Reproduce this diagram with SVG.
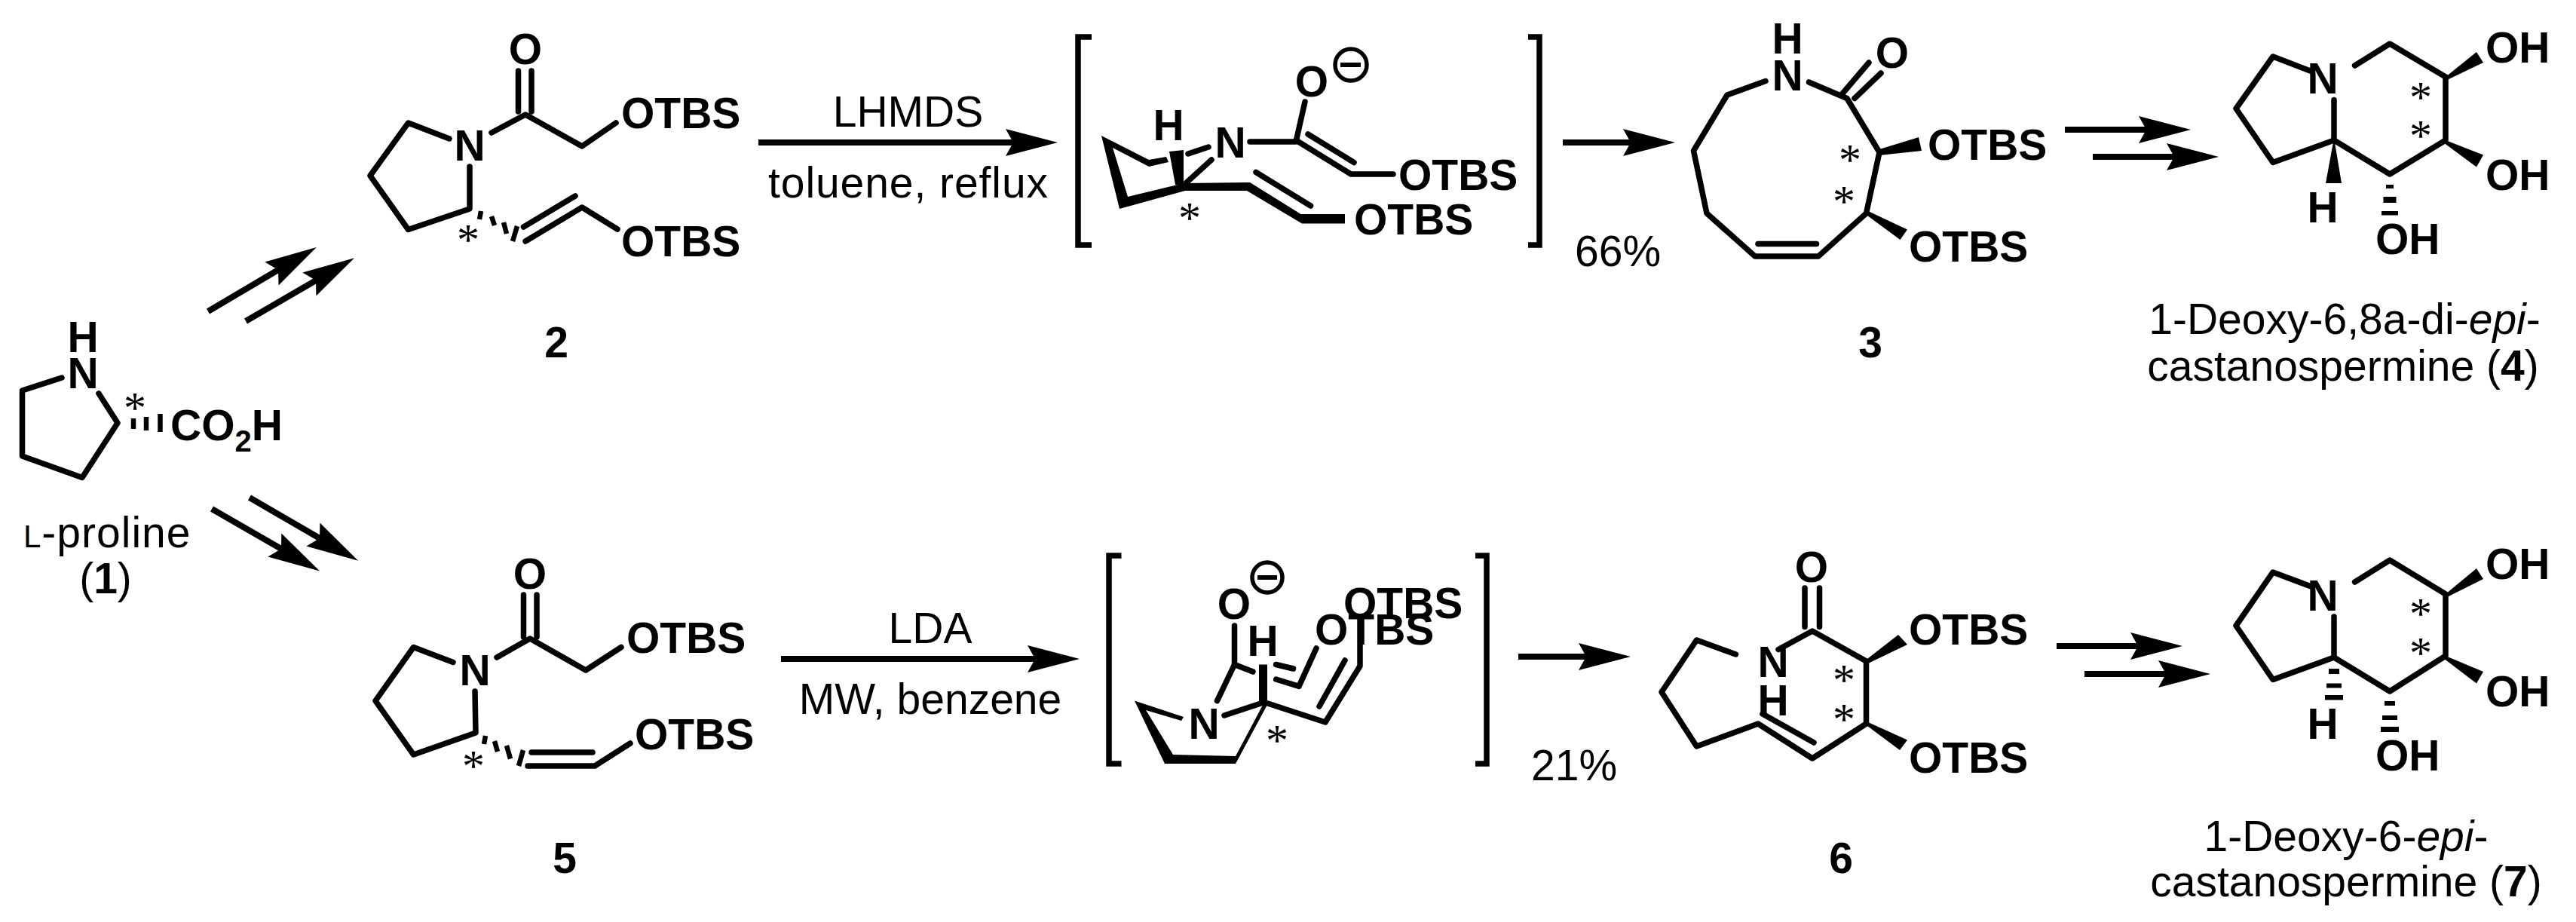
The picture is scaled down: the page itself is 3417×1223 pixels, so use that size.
<svg xmlns="http://www.w3.org/2000/svg" width="3417" height="1223" viewBox="0 0 3417 1223">
<style>
text{font-family:"Liberation Sans",Arial,sans-serif;fill:#000}
.a{font-size:57px;font-weight:700}
.m{text-anchor:middle}
.r{font-size:57px}
.s{font-family:"Liberation Serif","Times New Roman",serif;font-size:60px;text-anchor:middle}
.b{fill:none;stroke:#000;stroke-width:7.5;stroke-linecap:round;stroke-linejoin:round}
.h{fill:none;stroke:#000;stroke-width:6.5}
.w{fill:#000;stroke:none}
.k{fill:none;stroke:#000;stroke-width:7.5}
.c{stroke:#000;stroke-width:8;fill:none;marker-end:url(#head)}
.mc{fill:none;stroke:#000;stroke-width:5.5}
</style>
<defs>
<marker id="head" markerUnits="userSpaceOnUse" markerWidth="80" markerHeight="40" refX="10" refY="18" orient="auto" overflow="visible">
<path d="M0,0L69,18L0,36L10,18Z" fill="#000"/>
</marker>
</defs>
<rect width="3417" height="1223" fill="#fff"/>

<g id="connectors">
<line class="c" x1="276" y1="413" x2="369" y2="358"/>
<line class="c" x1="326" y1="426" x2="419" y2="372"/>
<line class="c" x1="331" y1="660" x2="424" y2="714"/>
<line class="c" x1="281" y1="675" x2="373" y2="728"/>
<line class="c" x1="1006" y1="189" x2="1344" y2="189"/>
<line class="c" x1="2073" y1="189" x2="2163" y2="189"/>
<line class="c" x1="2739" y1="172" x2="2847" y2="172"/>
<line class="c" x1="2776" y1="208" x2="2884" y2="208"/>
<line class="c" x1="1036" y1="874" x2="1373" y2="874"/>
<line class="c" x1="2014" y1="871" x2="2104" y2="871"/>
<line class="c" x1="2728" y1="857" x2="2836" y2="857"/>
<line class="c" x1="2765" y1="894" x2="2873" y2="894"/>
</g>

<g id="node-1">
<path class="b" d="M82,501L29.500,518V605L109,633.500L156,561L131,522"/>
<line class="h" x1="177" y1="555" x2="177" y2="569"/>
<line class="h" x1="194" y1="553" x2="194" y2="571"/>
<line class="h" x1="212.500" y1="549" x2="212.500" y2="573"/>
<text class="a m" x="110" y="467">H</text>
<text class="a m" x="110" y="515">N</text>
<text class="a" x="226" y="584">CO<tspan font-size="40" dy="15">2</tspan><tspan dy="-15">H</tspan></text>
<text class="s" x="179" y="561">*</text>
<text class="r" x="31" y="726" letter-spacing="1"><tspan font-size="42">L</tspan>-proline</text>
<text class="r m" x="140" y="787">(<tspan font-weight="700">1</tspan>)</text>
</g>

<g id="node-2">
<path class="b" d="M596,184L541.500,163L491,233L541.500,304.500L623,277V221"/>
<path class="b" d="M652,176L697,152L772,194L817,163"/>
<line class="b" x1="687.500" y1="94" x2="687.500" y2="148"/>
<line class="b" x1="705" y1="94" x2="705" y2="148"/>
<line class="h" x1="638" y1="280" x2="636" y2="291"/>
<line class="h" x1="652" y1="287" x2="656" y2="299"/>
<line class="h" x1="668" y1="295" x2="672" y2="310"/>
<line class="h" x1="686" y1="300" x2="680" y2="320"/>
<path class="b" d="M697,320L772,275L819,304"/>
<line class="b" x1="694.500" y1="301" x2="763" y2="260"/>
<text class="a m" x="697" y="85">O</text>
<text class="a" x="824" y="170">OTBS</text>
<text class="a m" x="623" y="213">N</text>
<text class="a" x="824" y="340">OTBS</text>
<text class="s" x="621" y="338">*</text>
<text class="a m" x="738" y="474">2</text>
</g>

<g id="reagents-top">
<text class="r m" x="1204.500" y="168">LHMDS</text>
<text class="r" x="1019" y="262" textLength="371" lengthAdjust="spacing">toluene, reflux</text>
<text class="r" x="2089" y="353">66%</text>
</g>

<g id="intermediate-top">
<path class="k" d="M1448,49H1430V325H1448"/>
<path class="k" d="M2027,49H2042V325H2027"/>
<path class="w" d="M1461,180L1524,212L1547,208L1550,215L1524,221L1476,196L1496,261L1570,243L1654,242L1658,242L1725.500,284L1784,284V296.500L1727,296.500L1654,253L1572,253L1485,277Z"/>
<path class="w" d="M1551,201L1570,199V245H1559Z"/>
<line class="b" x1="1576" y1="204" x2="1603" y2="195"/>
<line class="b" x1="1574" y1="242" x2="1607" y2="212"/>
<line class="b" x1="1666" y1="228.500" x2="1738.500" y2="273"/>
<path class="b" d="M1731,135L1719,188H1658"/>
<path class="b" d="M1719,186L1792,231H1848"/>
<line class="b" x1="1735" y1="178" x2="1796" y2="215.500"/>
<text class="a m" x="1550" y="186">H</text>
<text class="a m" x="1632" y="209">N</text>
<text class="a m" x="1740" y="128">O</text>
<circle class="mc" cx="1792" cy="86" r="21"/>
<rect class="w" x="1778" y="83" width="27" height="6"/>
<text class="a" x="1855" y="252">OTBS</text>
<text class="a" x="1796" y="311">OTBS</text>
<text class="s" x="1578" y="309">*</text>
</g>

<g id="node-3">
<path class="b" d="M2342,107.500L2291,126L2246.500,200L2264,283L2328,340H2412L2475.500,283L2493,202L2450,130.500L2399.500,109"/>
<line class="b" x1="2332" y1="323.500" x2="2409.500" y2="323.500"/>
<line class="b" x1="2442" y1="126.500" x2="2479" y2="83"/>
<line class="b" x1="2460" y1="130.500" x2="2495" y2="97"/>
<path class="w" d="M2493,198L2545,182L2549,200L2493,206Z"/>
<path class="w" d="M2473,283L2478,280L2530,304.500L2520.500,318Z"/>
<text class="a m" x="2371" y="71">H</text>
<text class="a m" x="2371" y="119.500">N</text>
<text class="a m" x="2510" y="90">O</text>
<text class="a" x="2557" y="212">OTBS</text>
<text class="a" x="2532" y="347">OTBS</text>
<text class="s" x="2454" y="232">*</text>
<text class="s" x="2446" y="287">*</text>
<text class="a m" x="2481" y="474">3</text>
</g>

<g id="node-4">
<path class="b" d="M3067,95L3015,75L2966,144L3015,215.500L3096,186V132.500"/>
<path class="b" d="M3123.600,87L3170,58L3244,102V186L3170,231L3096,186"/>
<path class="w" d="M3244,102L3285,69L3294,83L3246,106Z"/>
<path class="w" d="M3244,186L3294,205.600L3285,221.500L3241,189Z"/>
<path class="w" d="M3096,183L3106,243H3085Z"/>
<rect class="w" x="3165" y="245" width="10" height="5"/>
<rect class="w" x="3161.500" y="261" width="17" height="8"/>
<rect class="w" x="3159" y="280" width="22" height="5.500"/>
<text class="a m" x="3081" y="124">N</text>
<text class="a" x="3297" y="83">OH</text>
<text class="a" x="3297" y="252">OH</text>
<text class="a m" x="3081" y="294.500">H</text>
<text class="a" x="3151" y="337">OH</text>
<text class="s" x="3211" y="149">*</text>
<text class="s" x="3211" y="200">*</text>
<text class="r m" x="3110" y="443">1-Deoxy-6,8a-di-<tspan font-style="italic">epi</tspan>-</text>
<text class="r m" x="3108" y="505">castanospermine (<tspan font-weight="700">4</tspan>)</text>
</g>

<g id="node-5">
<path class="b" d="M601,878.500L548.500,858.500L498,929.600L548.500,1001L631,972L630,917"/>
<path class="b" d="M659,872L703,847L777,889L824,858.500"/>
<line class="b" x1="694.500" y1="789" x2="694.500" y2="845"/>
<line class="b" x1="712" y1="789" x2="712" y2="845"/>
<line class="h" x1="644" y1="976" x2="642" y2="987"/>
<line class="h" x1="656" y1="983" x2="660" y2="997"/>
<line class="h" x1="672" y1="989" x2="677" y2="1006.500"/>
<line class="h" x1="694" y1="995" x2="688" y2="1016"/>
<path class="b" d="M700,1016H789L836,986"/>
<line class="b" x1="705" y1="998" x2="786" y2="998"/>
<text class="a m" x="703" y="781">O</text>
<text class="a" x="831" y="866">OTBS</text>
<text class="a m" x="630" y="909">N</text>
<text class="a" x="842" y="994">OTBS</text>
<text class="s" x="628" y="1036">*</text>
<text class="a m" x="749" y="1158">5</text>
</g>

<g id="reagents-bottom">
<text class="r m" x="1234" y="853">LDA</text>
<text class="r m" x="1234" y="947">MW, benzene</text>
<text class="r" x="2031" y="1035">21%</text>
</g>

<g id="intermediate-bottom">
<path class="k" d="M1487.500,737H1471V1013H1487.500"/>
<path class="k" d="M1957,737H1972V1013H1957"/>
<path class="w" d="M1505,929.600L1570,951L1567,956L1520,942L1556,1001L1639,1003L1677,931.500L1682,933L1639,1013H1545Z"/>
<path class="b" d="M1624,949L1677,931.500L1758,958L1804,883.500V822"/>
<rect class="w" x="1670" y="881.500" width="11" height="50"/>
<line class="b" x1="1750" y1="937" x2="1784" y2="876"/>
<path class="b" d="M1637.500,830V881.500L1614.500,929.600"/>
<path class="b" d="M1637.500,881.500L1662,891"/>
<path class="b" d="M1692.600,901L1723,910.400L1746,860"/>
<line class="b" x1="1692.600" y1="881.500" x2="1715.500" y2="887"/>
<text class="a m" x="1637" y="821">O</text>
<circle class="mc" cx="1681" cy="766" r="20"/>
<rect class="w" x="1668" y="763" width="26" height="6"/>
<text class="a" x="1782" y="820">OTBS</text>
<text class="a" x="1744" y="855">OTBS</text>
<text class="a m" x="1675" y="870">H</text>
<text class="a m" x="1597" y="979.500">N</text>
<text class="s" x="1694" y="1002">*</text>
</g>

<g id="node-6">
<path class="b" d="M2302.500,868L2250.500,849L2204,918L2250.500,990L2332,960L2404,1006L2475.500,960V877L2404,837L2359,861.500"/>
<line class="b" x1="2338" y1="947" x2="2406" y2="985"/>
<line class="b" x1="2394" y1="780" x2="2394" y2="831.500"/>
<line class="b" x1="2413.500" y1="780" x2="2413.500" y2="831.500"/>
<path class="w" d="M2473,877L2518,842L2530,855L2478,880Z"/>
<path class="w" d="M2473,960L2478,958L2530,981.500L2520,995Z"/>
<text class="a m" x="2403" y="772">O</text>
<text class="a" x="2532" y="855">OTBS</text>
<text class="a m" x="2352" y="897.500">N</text>
<text class="a m" x="2352" y="949">H</text>
<text class="a" x="2532" y="1025">OTBS</text>
<text class="s" x="2446" y="922">*</text>
<text class="s" x="2446" y="974">*</text>
<text class="a m" x="2442" y="1158">6</text>
</g>

<g id="node-7">
<path class="b" d="M3067,778.500L3015,759L2966,830L3015,901.500L3096,872V818"/>
<path class="b" d="M3123.600,772L3170,743L3244,788V870L3170,917L3096,872"/>
<path class="w" d="M3244,788L3285,754L3294,768L3246,792Z"/>
<path class="w" d="M3244,870L3294,891L3285,906.500L3241,873Z"/>
<rect class="w" x="3089" y="887" width="14" height="7"/>
<rect class="w" x="3086" y="906.500" width="20" height="6"/>
<rect class="w" x="3084" y="922" width="24" height="6.500"/>
<rect class="w" x="3163" y="930" width="14" height="6"/>
<rect class="w" x="3160" y="949" width="20" height="6"/>
<rect class="w" x="3158" y="964" width="24" height="7"/>
<text class="a m" x="3081" y="810">N</text>
<text class="a" x="3297" y="768">OH</text>
<text class="a" x="3297" y="937">OH</text>
<text class="a m" x="3081" y="979.500">H</text>
<text class="a" x="3151" y="1022">OH</text>
<text class="s" x="3211" y="834">*</text>
<text class="s" x="3211" y="886">*</text>
<text class="r m" x="3112" y="1128.500">1-Deoxy-6-<tspan font-style="italic">epi</tspan>-</text>
<text class="r m" x="3112" y="1189">castanospermine (<tspan font-weight="700">7</tspan>)</text>
</g>
</svg>
